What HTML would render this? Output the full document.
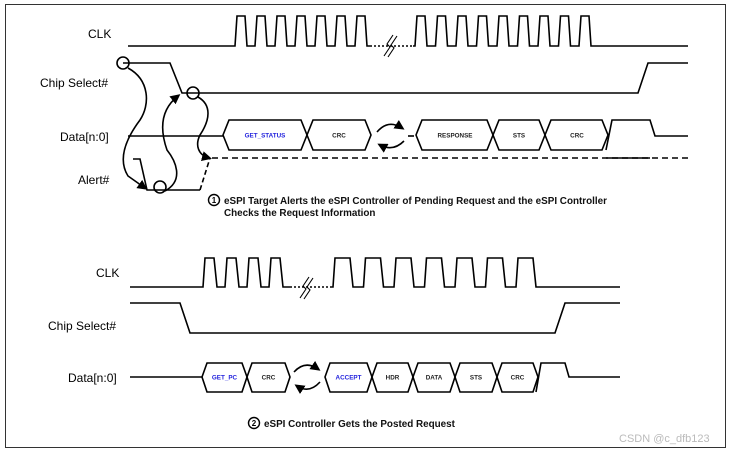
<!DOCTYPE html>
<html><head><meta charset="utf-8"><style>
html,body{margin:0;padding:0;background:#fff;}
svg{display:block;}
text{font-family:"Liberation Sans",sans-serif;}
.l{font-size:12px;fill:#000;}
.b{font-size:6.3px;font-weight:bold;text-anchor:middle;fill:#222;}
.bb{font-size:6.3px;font-weight:bold;text-anchor:middle;fill:#2222dd;}
.c{font-size:9.9px;font-weight:bold;fill:#111;}
</style></head><body>
<svg width="731" height="452" viewBox="0 0 731 452" xmlns="http://www.w3.org/2000/svg">
<defs>
<marker id="ah" markerWidth="10" markerHeight="10" refX="7" refY="5" orient="auto" markerUnits="userSpaceOnUse">
<path d="M0,0 L10,5 L0,10 Z" fill="#000"/></marker>
</defs>
<rect x="5.5" y="4.5" width="720" height="443" fill="#fff" stroke="#333" stroke-width="1"/>
<g fill="none" stroke="#000" stroke-width="1.6">
<path d="M128,46 H235 L237,16 H245 L247,46 H255 L257,16 H265 L267,46 H275 L277,16 H285 L287,46 H295 L297,16 H305 L307,46 H315 L317,16 H325 L327,46 H335 L337,16 H345 L347,46 H355 L357,16 H365 L367,46 H370"/>
<path d="M370,46 H413" stroke-dasharray="2,2"/>
<path d="M384,56 L390,47 L387,44 L393,35 M388,57 L394,48 L391,45 L397,36" stroke="#000" fill="none" stroke-width="1.1"/>
<path d="M413,46 H415 L417,16 H425 L427,46 H435.5 L437.5,16 H445.5 L447.5,46 H456 L458,16 H466 L468,46 H476.5 L478.5,16 H486.5 L488.5,46 H497 L499,16 H507 L509,46 H517.5 L519.5,16 H527.5 L529.5,46 H538 L540,16 H548 L550,46 H558.5 L560.5,16 H568.5 L570.5,46 H579 L581,16 H589 L591,46 H688"/>
<path d="M123,63 H170 L182,93 H638 L648,63 H688"/>
<path d="M128,136 H223"/>
<polygon points="223,135 229,120 301,120 307,135 301,150 229,150"/>
<polygon points="307,135 313,120 365,120 371,135 365,150 313,150"/>
<path d="M408,136 H414"/>
<polygon points="416,135 422,120 487,120 493,135 487,150 422,150"/>
<polygon points="493,135 499,120 539,120 545,135 539,150 499,150"/>
<polygon points="545,135 551,120 602,120 608,135 602,150 551,150"/>
<path d="M606,150 L612,120 H650 L655,136 H688"/>
<path d="M212,158 H688" stroke-dasharray="6,4"/>
<path d="M606,158 H650"/>
<path d="M133,159 H140 L147,190 H200"/>
<path d="M200,190 L210,158" stroke-dasharray="5,3"/>
<circle cx="123" cy="63" r="6"/>
<circle cx="193" cy="93" r="6"/>
<circle cx="160" cy="187" r="6"/>
<path d="M128,68 C150,80 150,105 140,120 C125,140 118,160 128,176 L145,188" marker-end="url(#ah)"/>
<path d="M165,191 C185,180 175,160 167,150 C160,130 160,110 178,96" marker-end="url(#ah)"/>
<path d="M198,97 C212,105 210,120 200,135 C195,145 198,155 209,158" marker-end="url(#ah)"/>
<path d="M377,132 Q388,119 402,128" marker-end="url(#ah)"/>
<path d="M404,141 Q393,152 380,145" marker-end="url(#ah)"/>
<path d="M130,287 H203 L205,258 H214 L217,287 H225 L227,258 H236 L239,287 H247 L249,258 H258 L261,287 H269 L271,258 H280 L283,287 H290"/>
<path d="M290,287 H331" stroke-dasharray="2,2"/>
<path d="M300,298 L306,289 L303,286 L309,277 M304,299 L310,290 L307,287 L313,278" stroke-width="1.1"/>
<path d="M331,287 H333 L335,258 H350 L353,287 H363.5 L365.5,258 H380.5 L383.5,287 H394 L396,258 H411 L414,287 H424.5 L426.5,258 H441.5 L444.5,287 H455 L457,258 H472 L475,287 H485.5 L487.5,258 H502.5 L505.5,287 H516 L518,258 H533 L536,287 H620"/>
<path d="M130,303 H180 L190,333 H555 L565,303 H620"/>
<path d="M130,377 H202"/>
<polygon points="202,377 207,363 242,363 247,377 242,392 207,392"/>
<polygon points="247,377 252,363 285,363 290,377 285,392 252,392"/>
<polygon points="325,377 330,363 367,363 372,377 367,392 330,392"/>
<polygon points="372,377 377,363 408,363 413,377 408,392 377,392"/>
<polygon points="413,377 418,363 450,363 455,377 450,392 418,392"/>
<polygon points="455,377 460,363 492,363 497,377 492,392 460,392"/>
<polygon points="497,377 502,363 533,363 538,377 533,392 502,392"/>
<path d="M536,392 L541,363 H565 L569,377 H620"/>
<path d="M294,372 Q305,360 318,369" marker-end="url(#ah)"/>
<path d="M320,382 Q309,394 297,386" marker-end="url(#ah)"/>
<circle cx="214" cy="200" r="5.5" stroke-width="1.4"/>
<circle cx="254" cy="423" r="5.5" stroke-width="1.4"/>
</g>
<text class="l" x="88" y="38">CLK</text>
<text class="l" x="40" y="87">Chip Select#</text>
<text class="l" x="60" y="141">Data[n:0]</text>
<text class="l" x="78" y="184">Alert#</text>
<text class="bb" x="265" y="137.5">GET_STATUS</text>
<text class="b" x="339" y="137.5">CRC</text>
<text class="b" x="455" y="137.5">RESPONSE</text>
<text class="b" x="519" y="137.5">STS</text>
<text class="b" x="577" y="137.5">CRC</text>
<text x="214" y="203" font-size="8" font-weight="bold" text-anchor="middle">1</text>
<text class="c" x="224" y="204">eSPI Target Alerts the eSPI Controller of Pending Request and the eSPI Controller</text>
<text class="c" x="224" y="216">Checks the Request Information</text>
<text class="l" x="96" y="277">CLK</text>
<text class="l" x="48" y="330">Chip Select#</text>
<text class="l" x="68" y="382">Data[n:0]</text>
<text class="bb" x="224.5" y="379.5">GET_PC</text>
<text class="b" x="268.5" y="379.5">CRC</text>
<text class="bb" x="348.5" y="379.5">ACCEPT</text>
<text class="b" x="392.5" y="379.5">HDR</text>
<text class="b" x="434" y="379.5">DATA</text>
<text class="b" x="476" y="379.5">STS</text>
<text class="b" x="517.5" y="379.5">CRC</text>
<text x="254" y="426" font-size="8" font-weight="bold" text-anchor="middle">2</text>
<text class="c" x="264" y="427">eSPI Controller Gets the Posted Request</text>
<text x="619" y="442" font-size="11" fill="#bbb">CSDN @c_dfb123</text>
</svg>
</body></html>
